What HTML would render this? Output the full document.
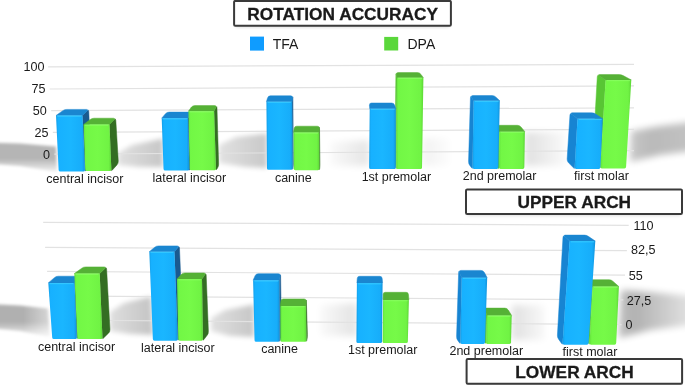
<!DOCTYPE html>
<html><head><meta charset="utf-8"><style>
html,body{margin:0;padding:0;background:#fff;}
svg{display:block;}
text{font-family:"Liberation Sans",sans-serif;fill:#1a1a1a;}
svg{will-change:transform;}
.yl text{font-size:12.6px;}
.cl text{font-size:12.5px;}
.bt{font-size:17.3px;font-weight:bold;stroke:#1a1a1a;stroke-width:0.3px;}
.lg{font-size:14px;}
</style></head><body>
<svg width="685" height="385" viewBox="0 0 685 385">
<defs>
<filter id="blur6" x="-50%" y="-50%" width="200%" height="200%"><feGaussianBlur stdDeviation="6"/></filter>
<filter id="blur5" x="-50%" y="-50%" width="200%" height="200%"><feGaussianBlur stdDeviation="5"/></filter>
<filter id="blur3" x="-50%" y="-50%" width="200%" height="200%"><feGaussianBlur stdDeviation="2.5"/></filter>
<filter id="blur4" x="-50%" y="-50%" width="200%" height="200%"><feGaussianBlur stdDeviation="3.5"/></filter>
<linearGradient id="shv" x1="0" x2="0" y1="0" y2="1"><stop offset="0" stop-color="#000" stop-opacity="1"/><stop offset="0.5" stop-color="#000" stop-opacity="0.85"/><stop offset="1" stop-color="#000" stop-opacity="0.3"/></linearGradient>
<linearGradient id="shr" x1="0" x2="1" y1="0" y2="0"><stop offset="0" stop-color="#000" stop-opacity="0.8"/><stop offset="0.4" stop-color="#000" stop-opacity="1"/><stop offset="1" stop-color="#000" stop-opacity="0.7"/></linearGradient>
<linearGradient id="shL" x1="0" x2="1" y1="0" y2="0"><stop offset="0" stop-color="#000" stop-opacity="1"/><stop offset="0.45" stop-color="#000" stop-opacity="0.95"/><stop offset="1" stop-color="#000" stop-opacity="0.35"/></linearGradient>
<linearGradient id="shR" x1="0" x2="1" y1="0" y2="0"><stop offset="0" stop-color="#000" stop-opacity="0.85"/><stop offset="0.2" stop-color="#000" stop-opacity="1"/><stop offset="0.8" stop-color="#000" stop-opacity="0.45"/><stop offset="1" stop-color="#000" stop-opacity="0.3"/></linearGradient>
<linearGradient id="shL2" x1="0" x2="1" y1="0" y2="0"><stop offset="0" stop-color="#000" stop-opacity="1"/><stop offset="0.6" stop-color="#000" stop-opacity="0.95"/><stop offset="1" stop-color="#000" stop-opacity="0.7"/></linearGradient>
<linearGradient id="shR2" x1="0" x2="1" y1="0" y2="0"><stop offset="0" stop-color="#000" stop-opacity="0.8"/><stop offset="0.3" stop-color="#000" stop-opacity="1"/><stop offset="1" stop-color="#000" stop-opacity="0.85"/></linearGradient>
<filter id="blur2b" x="-50%" y="-50%" width="200%" height="200%"><feGaussianBlur stdDeviation="1.8"/></filter>
<linearGradient id="shv2" x1="0" x2="0" y1="0" y2="1"><stop offset="0" stop-color="#000" stop-opacity="0.9"/><stop offset="0.55" stop-color="#000" stop-opacity="0.9"/><stop offset="1" stop-color="#000" stop-opacity="0.15"/></linearGradient>
<linearGradient id="mLLg" gradientUnits="userSpaceOnUse" x1="0" x2="52" y1="0" y2="0"><stop offset="0" stop-color="#fff"/><stop offset="0.45" stop-color="#fff"/><stop offset="1" stop-color="#777"/></linearGradient>
<mask id="mLL" maskUnits="userSpaceOnUse" x="-30" y="280" width="100" height="80"><rect x="-30" y="280" width="100" height="80" fill="url(#mLLg)"/></mask>
<linearGradient id="shh2" x1="0" x2="1" y1="0" y2="0"><stop offset="0" stop-color="#000" stop-opacity="0.55"/><stop offset="1" stop-color="#000" stop-opacity="1"/></linearGradient>
<linearGradient id="shhr2" x1="0" x2="1" y1="0" y2="0"><stop offset="0" stop-color="#000" stop-opacity="1"/><stop offset="1" stop-color="#000" stop-opacity="0.55"/></linearGradient>
<linearGradient id="shh" x1="0" x2="1" y1="0" y2="0"><stop offset="0" stop-color="#000" stop-opacity="0.2"/><stop offset="1" stop-color="#000" stop-opacity="1"/></linearGradient>
<linearGradient id="shhr" x1="0" x2="1" y1="0" y2="0"><stop offset="0" stop-color="#000" stop-opacity="1"/><stop offset="1" stop-color="#000" stop-opacity="0.2"/></linearGradient>
<filter id="blur2" x="-50%" y="-50%" width="200%" height="200%"><feGaussianBlur stdDeviation="1.5"/></filter>
<linearGradient id="gb" x1="0" x2="1" y1="0" y2="0">
 <stop offset="0" stop-color="#149fe8"/><stop offset="0.08" stop-color="#17b1ff"/><stop offset="0.5" stop-color="#1ab6ff"/><stop offset="0.9" stop-color="#17adfa"/><stop offset="1" stop-color="#1293dc"/>
</linearGradient>
<linearGradient id="gg" x1="0" x2="1" y1="0" y2="0">
 <stop offset="0" stop-color="#62e03a"/><stop offset="0.08" stop-color="#72f745"/><stop offset="0.5" stop-color="#76fa48"/><stop offset="0.9" stop-color="#70f344"/><stop offset="1" stop-color="#5cd636"/>
</linearGradient>
</defs>
<rect width="685" height="385" fill="#fff"/>

<g fill="#000">
  <polygon points="-20,142.5 20,143.5 56,146.5 57,172 20,166 -20,163" opacity="0.32" fill="url(#shv2)" filter="url(#blur2b)"/>
  <polygon points="631,131 660,126 700,121 700,150 660,155 630,162" opacity="0.27" fill="url(#shR2)" filter="url(#blur4)"/>
  <g mask="url(#mLL)"><polygon points="-20,303.5 20,305.5 48,308.5 50,337 20,331 -20,327" opacity="0.34" fill="url(#shv2)" filter="url(#blur2b)"/></g>
  <polygon points="621,290 650,292 700,297 700,324 650,330 619,338" opacity="0.30" fill="url(#shR)" filter="url(#blur4)"/>
  <polygon points="118,153 132,145 163,138.5 163,167 140,167 118,165" opacity="0.22" fill="url(#shh2)" filter="url(#blur3)"/>
  <polygon points="219,145 236,137 267,133.5 267,168 245,167 219,163" opacity="0.21" fill="url(#shh2)" filter="url(#blur3)"/>
  <polygon points="330,142 369,140 369,166 330,166" opacity="0.10" fill="url(#shh)" filter="url(#blur4)"/>
  <polygon points="423,138 450,138 450,166 423,166" opacity="0.05" fill="url(#shhr)" filter="url(#blur4)"/>
  <polygon points="525,132 565,132 565,166 525,166" opacity="0.12" fill="url(#shhr)" filter="url(#blur4)"/>
  <polygon points="110,312 124,303 151,296.5 153,335 130,334 110,331" opacity="0.23" fill="url(#shh2)" filter="url(#blur3)"/>
  <polygon points="211,318 225,310 254,304.5 254,337 230,336 211,331" opacity="0.22" fill="url(#shh2)" filter="url(#blur3)"/>
  <polygon points="320,305 357,303 357,336 320,336" opacity="0.11" fill="url(#shh)" filter="url(#blur4)"/>
  <polygon points="512,305 545,305 545,340 512,340" opacity="0.12" fill="url(#shhr)" filter="url(#blur4)"/>
</g>

<g stroke="#e2e2e2" stroke-width="1.2">
<line x1="48.1" y1="66.8" x2="634" y2="64.4"/>
<line x1="49.6" y1="89.0" x2="634" y2="85.9"/>
<line x1="51.2" y1="110.6" x2="634" y2="107.9"/>
<line x1="52.8" y1="132.4" x2="634" y2="129.3"/>
<line x1="54.4" y1="154.2" x2="634" y2="150.7"/>
<line x1="43.2" y1="222.3" x2="628.7" y2="225.3"/>
<line x1="45.1" y1="247.4" x2="626.9" y2="250.7"/>
<line x1="47.1" y1="271.4" x2="625.0" y2="275.2"/>
<line x1="49.0" y1="295.8" x2="623.3" y2="299.9"/>
<line x1="51.0" y1="320.0" x2="621.6" y2="324.6"/>
</g>
<g class="yl">
<text x="44.6" y="71.4" text-anchor="end">100</text>
<text x="45.6" y="93.4" text-anchor="end">75</text>
<text x="46.8" y="115.2" text-anchor="end">50</text>
<text x="48.6" y="137.0" text-anchor="end">25</text>
<text x="50.0" y="159.0" text-anchor="end">0</text>
<text x="633.4" y="229.6">110</text>
<text x="631.1" y="254.3">82,5</text>
<text x="628.7" y="280.1">55</text>
<text x="626.8" y="304.5">27,5</text>
<text x="625.4" y="329.3">0</text>
</g>
<path d="M82.50,115.50 L87.13,110.94 Q88.70,109.40 88.79,111.60 L90.91,162.80 Q91.00,165.00 89.51,166.62 L85.81,170.62 Q85.00,171.50 84.95,170.30Z" fill="#1a5a90" stroke="#1a5a90" stroke-width="0.5"/>
<path d="M62.81,110.67 Q64.60,109.40 66.80,109.40 L86.50,109.40 Q88.70,109.40 87.13,110.94 L82.50,115.50 L56.00,115.50Z" fill="#1a86d0" stroke="#1a86d0" stroke-width="0.5"/>
<path d="M56.03,116.10 Q56.00,115.50 56.60,115.50 L81.90,115.50 Q82.50,115.50 82.53,116.10 L84.93,169.90 Q85.00,171.50 83.40,171.50 L60.30,171.50 Q58.70,171.50 58.62,169.90Z" fill="url(#gb)"/>
<line x1="57.2" y1="116.2" x2="81.3" y2="116.2" stroke="#3fd0ff" stroke-width="1.1" opacity="0.7"/>
<path d="M109.50,124.50 L114.16,119.77 Q115.70,118.20 115.83,120.40 L118.27,161.10 Q118.40,163.30 116.93,164.94 L112.20,170.21 Q111.40,171.10 111.35,169.90Z" fill="#346e23" stroke="#346e23" stroke-width="0.5"/>
<path d="M90.24,119.52 Q92.00,118.20 94.20,118.20 L113.50,118.20 Q115.70,118.20 114.16,119.77 L109.50,124.50 L83.60,124.50Z" fill="#55b136" stroke="#55b136" stroke-width="0.5"/>
<path d="M83.62,125.10 Q83.60,124.50 84.20,124.50 L108.90,124.50 Q109.50,124.50 109.52,125.10 L111.33,169.50 Q111.40,171.10 109.80,171.10 L86.90,171.10 Q85.30,171.10 85.24,169.50Z" fill="url(#gg)"/>
<line x1="84.8" y1="125.2" x2="108.3" y2="125.2" stroke="#8dff66" stroke-width="1.1" opacity="0.7"/>
<path d="M188.00,118.20 L190.41,114.01 Q191.50,112.10 191.56,114.30 L192.94,163.80 Q193.00,166.00 191.62,167.71 L190.05,169.66 Q189.30,170.60 189.27,169.40Z" fill="#1a5a90" stroke="#1a5a90" stroke-width="0.5"/>
<path d="M165.47,113.77 Q166.90,112.10 169.10,112.10 L189.30,112.10 Q191.50,112.10 190.41,114.01 L188.00,118.20 L161.70,118.20Z" fill="#1a86d0" stroke="#1a86d0" stroke-width="0.5"/>
<path d="M161.72,118.80 Q161.70,118.20 162.30,118.20 L187.40,118.20 Q188.00,118.20 188.01,118.80 L189.26,169.00 Q189.30,170.60 187.70,170.60 L165.20,170.60 Q163.60,170.60 163.54,169.00Z" fill="url(#gb)"/>
<line x1="162.9" y1="118.9" x2="186.8" y2="118.9" stroke="#3fd0ff" stroke-width="1.1" opacity="0.7"/>
<path d="M214.10,111.20 L215.92,107.57 Q216.90,105.60 216.97,107.80 L218.63,164.20 Q218.70,166.40 217.45,168.21 L216.68,169.31 Q216.00,170.30 215.96,169.10Z" fill="#346e23" stroke="#346e23" stroke-width="0.5"/>
<path d="M191.28,107.36 Q192.60,105.60 194.80,105.60 L214.70,105.60 Q216.90,105.60 215.92,107.57 L214.10,111.20 L188.40,111.20Z" fill="#55b136" stroke="#55b136" stroke-width="0.5"/>
<path d="M188.41,111.80 Q188.40,111.20 189.00,111.20 L213.50,111.20 Q214.10,111.20 214.12,111.80 L215.95,168.70 Q216.00,170.30 214.40,170.30 L191.40,170.30 Q189.80,170.30 189.76,168.70Z" fill="url(#gg)"/>
<line x1="189.6" y1="111.9" x2="212.9" y2="111.9" stroke="#8dff66" stroke-width="1.1" opacity="0.7"/>
<path d="M292.10,101.70 L292.60,97.98 Q292.90,95.80 292.92,98.00 L293.38,162.80 Q293.40,165.00 293.08,167.18 L292.87,168.61 Q292.70,169.80 292.69,168.60Z" fill="#1a5a90" stroke="#1a5a90" stroke-width="0.5"/>
<path d="M267.56,97.90 Q268.20,95.80 270.40,95.80 L290.70,95.80 Q292.90,95.80 292.60,97.98 L292.10,101.70 L266.40,101.70Z" fill="#1a86d0" stroke="#1a86d0" stroke-width="0.5"/>
<path d="M266.41,102.30 Q266.40,101.70 267.00,101.70 L291.50,101.70 Q292.10,101.70 292.11,102.30 L292.69,168.20 Q292.70,169.80 291.10,169.80 L268.60,169.80 Q267.00,169.80 266.99,168.20Z" fill="url(#gb)"/>
<line x1="267.6" y1="102.4" x2="290.9" y2="102.4" stroke="#3fd0ff" stroke-width="1.1" opacity="0.7"/>
<path d="M319.20,132.50 L319.40,128.40 Q319.50,126.20 319.53,128.40 L319.97,163.80 Q320.00,166.00 319.75,168.10 L319.64,169.01 Q319.50,170.20 319.49,169.00Z" fill="#346e23" stroke="#346e23" stroke-width="0.5"/>
<path d="M294.16,128.37 Q294.50,126.20 296.70,126.20 L317.30,126.20 Q319.50,126.20 319.40,128.40 L319.20,132.50 L293.50,132.50Z" fill="#55b136" stroke="#55b136" stroke-width="0.5"/>
<path d="M293.50,133.10 Q293.50,132.50 294.10,132.50 L318.60,132.50 Q319.20,132.50 319.20,133.10 L319.49,168.60 Q319.50,170.20 317.90,170.20 L295.40,170.20 Q293.80,170.20 293.79,168.60Z" fill="url(#gg)"/>
<line x1="294.7" y1="133.2" x2="318.0" y2="133.2" stroke="#8dff66" stroke-width="1.1" opacity="0.7"/>
<path d="M395.87,74.80 Q395.90,72.60 396.36,74.75 L397.00,77.70 L396.31,167.90 Q396.30,169.10 395.96,167.95 L395.42,166.11 Q394.80,164.00 394.83,161.80Z" fill="#58c534" stroke="#58c534" stroke-width="0.5"/>
<path d="M396.36,74.75 Q395.90,72.60 398.10,72.60 L417.50,72.60 Q419.70,72.60 420.99,74.38 L423.40,77.70 L397.00,77.70Z" fill="#55b136" stroke="#55b136" stroke-width="0.5"/>
<path d="M397.00,78.30 Q397.00,77.70 397.60,77.70 L422.80,77.70 Q423.40,77.70 423.39,78.30 L422.02,167.50 Q422.00,169.10 420.40,169.10 L397.90,169.10 Q396.30,169.10 396.31,167.50Z" fill="url(#gg)"/>
<line x1="398.2" y1="78.4" x2="422.2" y2="78.4" stroke="#8dff66" stroke-width="1.1" opacity="0.7"/>
<path d="M369.45,105.19 Q369.30,103.00 371.50,103.00 L391.70,103.00 Q393.90,103.00 394.60,105.09 L395.80,108.70 L369.70,108.70Z" fill="#1a86d0" stroke="#1a86d0" stroke-width="0.5"/>
<path d="M369.69,109.30 Q369.70,108.70 370.30,108.70 L395.20,108.70 Q395.80,108.70 395.80,109.30 L395.80,167.50 Q395.80,169.10 394.20,169.10 L370.70,169.10 Q369.10,169.10 369.12,167.50Z" fill="url(#gb)"/>
<line x1="370.9" y1="109.4" x2="394.6" y2="109.4" stroke="#3fd0ff" stroke-width="1.1" opacity="0.7"/>
<path d="M494.42,127.50 Q494.50,125.30 495.82,127.06 L499.30,131.70 L499.01,167.70 Q499.00,168.90 498.02,168.20 L494.79,165.88 Q493.00,164.60 493.08,162.40Z" fill="#58c534" stroke="#58c534" stroke-width="0.5"/>
<path d="M495.82,127.06 Q494.50,125.30 496.70,125.30 L517.40,125.30 Q519.60,125.30 521.00,126.99 L524.90,131.70 L499.30,131.70Z" fill="#55b136" stroke="#55b136" stroke-width="0.5"/>
<path d="M499.30,132.30 Q499.30,131.70 499.90,131.70 L524.30,131.70 Q524.90,131.70 524.89,132.30 L524.33,167.30 Q524.30,168.90 522.70,168.90 L500.60,168.90 Q499.00,168.90 499.01,167.30Z" fill="url(#gg)"/>
<line x1="500.5" y1="132.4" x2="523.7" y2="132.4" stroke="#8dff66" stroke-width="1.1" opacity="0.7"/>
<path d="M470.44,97.80 Q470.50,95.60 471.63,97.49 L473.60,100.80 L472.52,167.70 Q472.50,168.90 471.76,167.96 L469.86,165.53 Q468.50,163.80 468.56,161.60Z" fill="#1784d2" stroke="#1784d2" stroke-width="0.5"/>
<path d="M471.63,97.49 Q470.50,95.60 472.70,95.60 L492.20,95.60 Q494.40,95.60 495.98,97.13 L499.80,100.80 L473.60,100.80Z" fill="#1a86d0" stroke="#1a86d0" stroke-width="0.5"/>
<path d="M473.59,101.40 Q473.60,100.80 474.20,100.80 L499.20,100.80 Q499.80,100.80 499.79,101.40 L498.34,167.30 Q498.30,168.90 496.70,168.90 L474.10,168.90 Q472.50,168.90 472.53,167.30Z" fill="url(#gb)"/>
<line x1="474.8" y1="101.5" x2="498.6" y2="101.5" stroke="#3fd0ff" stroke-width="1.1" opacity="0.7"/>
<path d="M597.28,76.80 Q597.40,74.60 599.25,75.79 L605.60,79.90 L600.37,167.20 Q600.30,168.40 599.41,167.60 L594.14,162.87 Q592.50,161.40 592.62,159.20Z" fill="#58c534" stroke="#58c534" stroke-width="0.5"/>
<path d="M599.25,75.79 Q597.40,74.60 599.60,74.60 L619.00,74.60 Q621.20,74.60 623.15,75.62 L631.30,79.90 L605.60,79.90Z" fill="#55b136" stroke="#55b136" stroke-width="0.5"/>
<path d="M605.56,80.50 Q605.60,79.90 606.20,79.90 L630.70,79.90 Q631.30,79.90 631.26,80.50 L626.10,166.80 Q626.00,168.40 624.40,168.40 L601.90,168.40 Q600.30,168.40 600.40,166.80Z" fill="url(#gg)"/>
<line x1="606.8" y1="80.6" x2="630.1" y2="80.6" stroke="#8dff66" stroke-width="1.1" opacity="0.7"/>
<path d="M569.96,115.00 Q570.10,112.80 571.81,114.19 L577.50,118.80 L574.67,167.70 Q574.60,168.90 573.75,168.05 L568.56,162.86 Q567.00,161.30 567.14,159.10Z" fill="#1784d2" stroke="#1784d2" stroke-width="0.5"/>
<path d="M571.81,114.19 Q570.10,112.80 572.30,112.80 L591.60,112.80 Q593.80,112.80 595.63,114.02 L602.80,118.80 L577.50,118.80Z" fill="#1a86d0" stroke="#1a86d0" stroke-width="0.5"/>
<path d="M577.47,119.40 Q577.50,118.80 578.10,118.80 L602.20,118.80 Q602.80,118.80 602.77,119.40 L600.38,167.30 Q600.30,168.90 598.70,168.90 L576.20,168.90 Q574.60,168.90 574.69,167.30Z" fill="url(#gb)"/>
<line x1="578.7" y1="119.5" x2="601.6" y2="119.5" stroke="#3fd0ff" stroke-width="1.1" opacity="0.7"/>
<path d="M74.50,282.90 L79.47,277.78 Q81.00,276.20 81.08,278.40 L82.92,329.80 Q83.00,332.00 81.54,333.65 L77.60,338.10 Q76.80,339.00 76.75,337.80Z" fill="#1a5a90" stroke="#1a5a90" stroke-width="0.5"/>
<path d="M54.43,277.63 Q56.10,276.20 58.30,276.20 L78.80,276.20 Q81.00,276.20 79.47,277.78 L74.50,282.90 L48.30,282.90Z" fill="#1a86d0" stroke="#1a86d0" stroke-width="0.5"/>
<path d="M48.34,283.50 Q48.30,282.90 48.90,282.90 L73.90,282.90 Q74.50,282.90 74.52,283.50 L76.73,337.40 Q76.80,339.00 75.20,339.00 L53.90,339.00 Q52.30,339.00 52.19,337.40Z" fill="url(#gb)"/>
<line x1="49.5" y1="283.6" x2="73.3" y2="283.6" stroke="#3fd0ff" stroke-width="1.1" opacity="0.7"/>
<path d="M99.70,273.60 L104.93,268.44 Q106.50,266.90 106.62,269.10 L109.98,329.40 Q110.10,331.60 108.53,333.15 L103.35,338.26 Q102.50,339.10 102.45,337.90Z" fill="#346e23" stroke="#346e23" stroke-width="0.5"/>
<path d="M81.81,268.19 Q83.60,266.90 85.80,266.90 L104.30,266.90 Q106.50,266.90 104.93,268.44 L99.70,273.60 L74.30,273.60Z" fill="#55b136" stroke="#55b136" stroke-width="0.5"/>
<path d="M74.33,274.20 Q74.30,273.60 74.90,273.60 L99.10,273.60 Q99.70,273.60 99.73,274.20 L102.43,337.50 Q102.50,339.10 100.90,339.10 L79.00,339.10 Q77.40,339.10 77.32,337.50Z" fill="url(#gg)"/>
<line x1="75.5" y1="274.3" x2="98.5" y2="274.3" stroke="#8dff66" stroke-width="1.1" opacity="0.7"/>
<path d="M174.50,251.70 L177.98,247.58 Q179.40,245.90 179.49,248.10 L182.91,331.30 Q183.00,333.50 181.71,335.28 L178.50,339.73 Q177.80,340.70 177.76,339.50Z" fill="#1a5a90" stroke="#1a5a90" stroke-width="0.5"/>
<path d="M154.70,247.29 Q156.40,245.90 158.60,245.90 L177.20,245.90 Q179.40,245.90 177.98,247.58 L174.50,251.70 L149.30,251.70Z" fill="#1a86d0" stroke="#1a86d0" stroke-width="0.5"/>
<path d="M149.32,252.30 Q149.30,251.70 149.90,251.70 L173.90,251.70 Q174.50,251.70 174.52,252.30 L177.74,339.10 Q177.80,340.70 176.20,340.70 L154.50,340.70 Q152.90,340.70 152.84,339.10Z" fill="url(#gb)"/>
<line x1="150.5" y1="252.4" x2="173.3" y2="252.4" stroke="#3fd0ff" stroke-width="1.1" opacity="0.7"/>
<path d="M202.00,279.10 L204.89,274.74 Q206.10,272.90 206.19,275.10 L208.41,331.40 Q208.50,333.60 207.15,335.34 L203.73,339.75 Q203.00,340.70 202.98,339.50Z" fill="#346e23" stroke="#346e23" stroke-width="0.5"/>
<path d="M181.13,274.53 Q182.60,272.90 184.80,272.90 L203.90,272.90 Q206.10,272.90 204.89,274.74 L202.00,279.10 L177.00,279.10Z" fill="#55b136" stroke="#55b136" stroke-width="0.5"/>
<path d="M177.01,279.70 Q177.00,279.10 177.60,279.10 L201.40,279.10 Q202.00,279.10 202.01,279.70 L202.97,339.10 Q203.00,340.70 201.40,340.70 L179.90,340.70 Q178.30,340.70 178.27,339.10Z" fill="url(#gg)"/>
<line x1="178.2" y1="279.8" x2="200.8" y2="279.8" stroke="#8dff66" stroke-width="1.1" opacity="0.7"/>
<path d="M279.40,280.30 L280.21,275.86 Q280.60,273.70 280.63,275.90 L281.47,334.60 Q281.50,336.80 280.72,338.86 L280.03,340.68 Q279.60,341.80 279.60,340.60Z" fill="#1a5a90" stroke="#1a5a90" stroke-width="0.5"/>
<path d="M255.11,275.71 Q256.00,273.70 258.20,273.70 L278.40,273.70 Q280.60,273.70 280.21,275.86 L279.40,280.30 L253.10,280.30Z" fill="#1a86d0" stroke="#1a86d0" stroke-width="0.5"/>
<path d="M253.11,280.90 Q253.10,280.30 253.70,280.30 L278.80,280.30 Q279.40,280.30 279.40,280.90 L279.59,340.20 Q279.60,341.80 278.00,341.80 L256.20,341.80 Q254.60,341.80 254.56,340.20Z" fill="url(#gb)"/>
<line x1="254.3" y1="281.0" x2="278.2" y2="281.0" stroke="#3fd0ff" stroke-width="1.1" opacity="0.7"/>
<path d="M305.90,306.00 L306.18,301.10 Q306.30,298.90 306.37,301.10 L307.43,334.60 Q307.50,336.80 307.07,338.96 L306.74,340.62 Q306.50,341.80 306.48,340.60Z" fill="#346e23" stroke="#346e23" stroke-width="0.5"/>
<path d="M280.85,301.09 Q281.10,298.90 283.30,298.90 L304.10,298.90 Q306.30,298.90 306.18,301.10 L305.90,306.00 L280.30,306.00Z" fill="#55b136" stroke="#55b136" stroke-width="0.5"/>
<path d="M280.30,306.60 Q280.30,306.00 280.90,306.00 L305.30,306.00 Q305.90,306.00 305.91,306.60 L306.47,340.20 Q306.50,341.80 304.90,341.80 L282.00,341.80 Q280.40,341.80 280.40,340.20Z" fill="url(#gg)"/>
<line x1="281.5" y1="306.7" x2="304.7" y2="306.7" stroke="#8dff66" stroke-width="1.1" opacity="0.7"/>
<path d="M383.10,294.50 Q383.10,292.30 385.30,292.30 L406.10,292.30 Q408.30,292.30 408.47,294.49 L408.90,300.00 L383.10,300.00Z" fill="#55b136" stroke="#55b136" stroke-width="0.5"/>
<path d="M383.09,300.60 Q383.10,300.00 383.70,300.00 L408.30,300.00 Q408.90,300.00 408.88,300.60 L407.84,341.40 Q407.80,343.00 406.20,343.00 L384.20,343.00 Q382.60,343.00 382.62,341.40Z" fill="url(#gg)"/>
<line x1="384.3" y1="300.7" x2="407.7" y2="300.7" stroke="#8dff66" stroke-width="1.1" opacity="0.7"/>
<path d="M357.24,278.49 Q357.40,276.30 359.60,276.30 L379.80,276.30 Q382.00,276.30 382.19,278.49 L382.60,283.10 L356.90,283.10Z" fill="#1a86d0" stroke="#1a86d0" stroke-width="0.5"/>
<path d="M356.89,283.70 Q356.90,283.10 357.50,283.10 L382.00,283.10 Q382.60,283.10 382.59,283.70 L382.02,341.40 Q382.00,343.00 380.40,343.00 L358.00,343.00 Q356.40,343.00 356.41,341.40Z" fill="url(#gb)"/>
<line x1="358.1" y1="283.8" x2="381.4" y2="283.8" stroke="#3fd0ff" stroke-width="1.1" opacity="0.7"/>
<path d="M483.93,310.30 Q484.00,308.10 484.82,310.14 L487.00,315.60 L486.14,342.70 Q486.10,343.90 485.35,342.96 L484.37,341.72 Q483.00,340.00 483.07,337.80Z" fill="#58c534" stroke="#58c534" stroke-width="0.5"/>
<path d="M484.82,310.14 Q484.00,308.10 486.20,308.10 L504.90,308.10 Q507.10,308.10 508.25,309.98 L511.70,315.60 L487.00,315.60Z" fill="#55b136" stroke="#55b136" stroke-width="0.5"/>
<path d="M486.98,316.20 Q487.00,315.60 487.60,315.60 L511.10,315.60 Q511.70,315.60 511.69,316.20 L511.04,342.30 Q511.00,343.90 509.40,343.90 L487.70,343.90 Q486.10,343.90 486.15,342.30Z" fill="url(#gg)"/>
<line x1="488.2" y1="316.3" x2="510.5" y2="316.3" stroke="#8dff66" stroke-width="1.1" opacity="0.7"/>
<path d="M458.63,272.60 Q458.70,270.40 459.54,272.43 L461.70,277.70 L460.33,342.70 Q460.30,343.90 459.59,342.93 L457.80,340.48 Q456.50,338.70 456.57,336.50Z" fill="#1784d2" stroke="#1784d2" stroke-width="0.5"/>
<path d="M459.54,272.43 Q458.70,270.40 460.90,270.40 L481.00,270.40 Q483.20,270.40 484.26,272.33 L487.20,277.70 L461.70,277.70Z" fill="#1a86d0" stroke="#1a86d0" stroke-width="0.5"/>
<path d="M461.69,278.30 Q461.70,277.70 462.30,277.70 L486.60,277.70 Q487.20,277.70 487.18,278.30 L485.05,342.30 Q485.00,343.90 483.40,343.90 L461.90,343.90 Q460.30,343.90 460.33,342.30Z" fill="url(#gb)"/>
<line x1="462.9" y1="278.4" x2="486.0" y2="278.4" stroke="#3fd0ff" stroke-width="1.1" opacity="0.7"/>
<path d="M587.89,281.90 Q588.00,279.70 589.24,281.52 L592.70,286.60 L589.57,343.50 Q589.50,344.70 588.84,343.70 L586.21,339.73 Q585.00,337.90 585.11,335.70Z" fill="#58c534" stroke="#58c534" stroke-width="0.5"/>
<path d="M589.24,281.52 Q588.00,279.70 590.20,279.70 L609.00,279.70 Q611.20,279.70 612.84,281.17 L618.90,286.60 L592.70,286.60Z" fill="#55b136" stroke="#55b136" stroke-width="0.5"/>
<path d="M592.67,287.20 Q592.70,286.60 593.30,286.60 L618.30,286.60 Q618.90,286.60 618.87,287.20 L616.18,343.10 Q616.10,344.70 614.50,344.70 L591.10,344.70 Q589.50,344.70 589.59,343.10Z" fill="url(#gg)"/>
<line x1="593.9" y1="287.3" x2="617.7" y2="287.3" stroke="#8dff66" stroke-width="1.1" opacity="0.7"/>
<path d="M562.98,237.30 Q563.10,235.10 564.72,236.59 L569.60,241.10 L562.58,343.50 Q562.50,344.70 561.80,343.72 L558.58,339.19 Q557.30,337.40 557.42,335.20Z" fill="#1784d2" stroke="#1784d2" stroke-width="0.5"/>
<path d="M564.72,236.59 Q563.10,235.10 565.30,235.10 L584.30,235.10 Q586.50,235.10 588.32,236.34 L595.30,241.10 L569.60,241.10Z" fill="#1a86d0" stroke="#1a86d0" stroke-width="0.5"/>
<path d="M569.56,241.70 Q569.60,241.10 570.20,241.10 L594.70,241.10 Q595.30,241.10 595.26,241.70 L588.60,343.10 Q588.50,344.70 586.90,344.70 L564.10,344.70 Q562.50,344.70 562.61,343.10Z" fill="url(#gb)"/>
<line x1="570.8" y1="241.8" x2="594.1" y2="241.8" stroke="#3fd0ff" stroke-width="1.1" opacity="0.7"/>
<g class="cl">
<text x="84.85" y="182.7" text-anchor="middle">central incisor</text>
<text x="189.4" y="181.8" text-anchor="middle">lateral incisor</text>
<text x="293.3" y="181.7" text-anchor="middle">canine</text>
<text x="396.4" y="180.6" text-anchor="middle">1st premolar</text>
<text x="499.6" y="180.3" text-anchor="middle">2nd premolar</text>
<text x="601.45" y="180.2" text-anchor="middle">first molar</text>
<text x="76.5" y="350.5" text-anchor="middle">central incisor</text>
<text x="177.9" y="351.6" text-anchor="middle">lateral incisor</text>
<text x="279.55" y="353.3" text-anchor="middle">canine</text>
<text x="382.7" y="353.6" text-anchor="middle">1st premolar</text>
<text x="486.3" y="355.3" text-anchor="middle">2nd premolar</text>
<text x="590.0" y="356.0" text-anchor="middle">first molar</text>
</g>
<rect x="235.1" y="2.9" width="214.8" height="24.8" rx="2" fill="#000" opacity="0.12" filter="url(#blur2)"/>
<rect x="234.1" y="0.9" width="216.8" height="24.8" rx="1.2" fill="#fff" stroke="#3a3a3a" stroke-width="2"/>
<text x="342.7" y="19.8" text-anchor="middle" class="bt">ROTATION ACCURACY</text>
<rect x="467" y="191.5" width="214" height="24.5" rx="2" fill="#000" opacity="0.12" filter="url(#blur2)"/>
<rect x="466" y="189.5" width="216" height="24.5" rx="1.2" fill="#fff" stroke="#3a3a3a" stroke-width="2"/>
<text x="574.3" y="208.1" text-anchor="middle" class="bt">UPPER ARCH</text>
<rect x="467.6" y="361.1" width="213.5" height="24.7" rx="2" fill="#000" opacity="0.12" filter="url(#blur2)"/>
<rect x="466.6" y="359.1" width="215.5" height="24.7" rx="1.2" fill="#fff" stroke="#3a3a3a" stroke-width="2"/>
<text x="574.5" y="377.7" text-anchor="middle" class="bt">LOWER ARCH</text>
<rect x="250" y="36.6" width="14" height="14" fill="#0f9cff"/>
<text x="272.7" y="49.2" class="lg">TFA</text>
<rect x="384.2" y="36.9" width="14" height="13.6" fill="#5ad73b"/>
<text x="407.5" y="49.2" class="lg">DPA</text>
</svg>
</body></html>
